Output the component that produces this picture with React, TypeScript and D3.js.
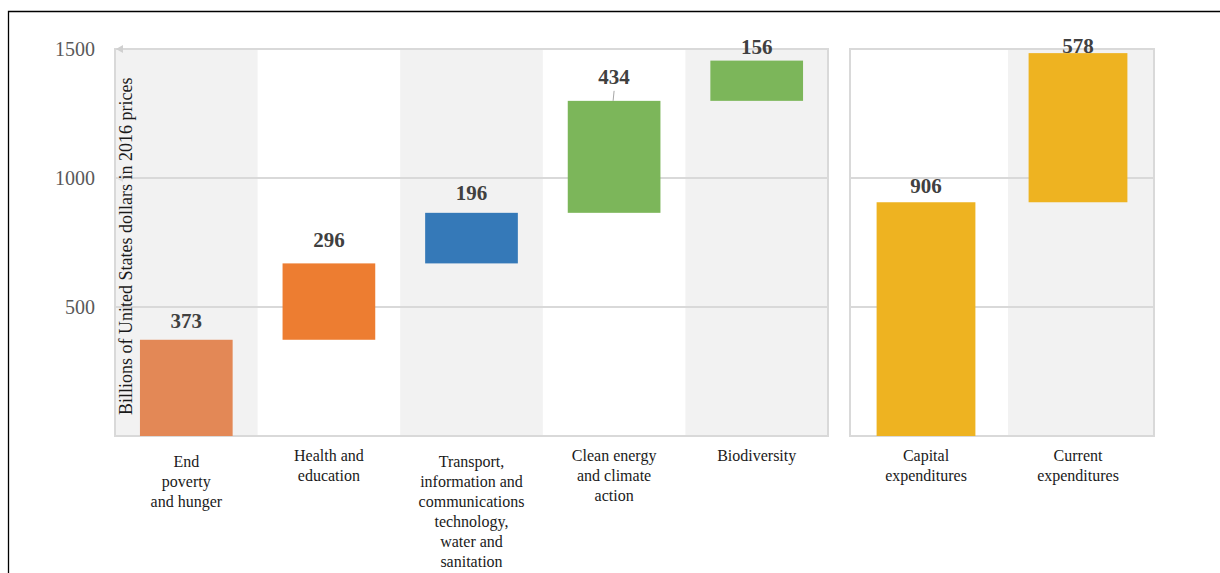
import React from "react";
import * as d3 from "d3";

// ---- Data ----
const leftCategories = [
  "End poverty and hunger",
  "Health and education",
  "Transport, information and communications technology, water and sanitation",
  "Clean energy and climate action",
  "Biodiversity",
];
const leftLabelLines = [
  ["End", "poverty", "and hunger"],
  ["Health and", "education"],
  ["Transport,", "information and", "communications", "technology,", "water and", "sanitation"],
  ["Clean energy", "and climate", "action"],
  ["Biodiversity"],
];
const leftValues = [373, 296, 196, 434, 156];
const leftColors = ["#E38856", "#ED7D31", "#3579B8", "#7CB65A", "#7CB65A"];

const rightCategories = ["Capital expenditures", "Current expenditures"];
const rightLabelLines = [
  ["Capital", "expenditures"],
  ["Current", "expenditures"],
];
const rightValues = [906, 578];
const rightColors = ["#EEB321", "#EEB321"];

const yTicks = [500, 1000, 1500];
const yTitle = "Billions of United States dollars in 2016 prices";

// ---- Layout constants ----
const W = 1220;
const H = 573;
const leftRange: [number, number] = [115, 828];
const rightRange: [number, number] = [850, 1154];
const leftLift = [12, 16, 13, 17, 7];
const rightLift = [9, 0];
const leftLabelShift = [6, 0, 6, 0, 0];
const rightLabelShift = [0, 0];
const BAR_RATIO = 0.65;
const serif = "'Liberation Serif', 'Times New Roman', serif";

type Bar = {
  cat: string;
  lines: string[];
  value: number;
  base: number;
  top: number;
  color: string;
  lift: number;
  shift: number;
};

function waterfall(
  cats: string[],
  lines: string[][],
  vals: number[],
  colors: string[],
  lifts: number[],
  shifts: number[]
): Bar[] {
  let acc = 0;
  return cats.map((c, i) => {
    const base = acc;
    acc += vals[i];
    return { cat: c, lines: lines[i], value: vals[i], base, top: acc, color: colors[i], lift: lifts[i], shift: shifts[i] };
  });
}

export default function App() {
  const y = d3.scaleLinear().domain([0, 1500]).range([436, 49]);
  const leftBars = waterfall(leftCategories, leftLabelLines, leftValues, leftColors, leftLift, leftLabelShift);
  const rightBars = waterfall(rightCategories, rightLabelLines, rightValues, rightColors, rightLift, rightLabelShift);
  const xl = d3.scaleBand<string>().domain(leftCategories).range(leftRange).padding(0);
  const xr = d3.scaleBand<string>().domain(rightCategories).range(rightRange).padding(0);

  const panels = [
    { bars: leftBars, x: xl, range: leftRange, grayIdx: (i: number) => i % 2 === 0, grayInset: 0 },
    { bars: rightBars, x: xr, range: rightRange, grayIdx: (i: number) => i % 2 === 1, grayInset: 6 },
  ];

  const y0 = y(0);
  const yTop = y(1500);

  return (
    <div style={{ position: "absolute", left: 0, top: 0 }}>
      <svg width={W} height={H} style={{ display: "block", background: "#fff" }}>
        <rect x={0} y={0} width={W} height={H} fill="#fff" />
        {/* outer frame */}
        <path d={`M8.5,${H} V11.5 H${W}`} fill="none" stroke="#000" strokeWidth={1.3} />

        {panels.map((p, pi) => {
          const bw = p.x.bandwidth();
          return (
            <g key={pi}>
              {/* alternating bands */}
              {p.bars.map((b, i) =>
                p.grayIdx(i) ? (
                  <rect key={i} x={p.x(b.cat)! + p.grayInset} y={yTop} width={bw - p.grayInset} height={y0 - yTop} fill="#F2F2F2" />
                ) : null
              )}
              {/* gridlines */}
              {yTicks.map((t) => (
                <line key={t} x1={p.range[0]} x2={p.range[1]} y1={y(t)} y2={y(t)} stroke="#D9D9D9" strokeWidth={2} />
              ))}
              {/* panel border */}
              <rect x={p.range[0]} y={yTop} width={p.range[1] - p.range[0]} height={y0 - yTop} fill="none" stroke="#D9D9D9" strokeWidth={2} />
              {/* bars */}
              {p.bars.map((b, i) => {
                const cx = p.x(b.cat)! + bw / 2;
                const w = bw * BAR_RATIO;
                return (
                  <rect key={"b" + i} x={cx - w / 2} y={y(b.top)} width={w} height={y(b.base) - y(b.top)} fill={b.color} />
                );
              })}
              {/* value labels */}
              {p.bars.map((b, i) => {
                const cx = p.x(b.cat)! + bw / 2;
                const by = y(b.top) - b.lift;
                return (
                  <g key={"l" + i}>
                    {pi === 0 && i === 3 ? (
                      <line x1={cx} x2={cx - 1} y1={by + 7} y2={y(b.top)} stroke="#A6A6A6" strokeWidth={1} />
                    ) : null}
                    <text x={cx} y={by} textAnchor="middle" fontFamily={serif} fontWeight="bold" fontSize={21} fill="#404040">
                      {b.value}
                    </text>
                  </g>
                );
              })}
              {/* category labels */}
              {p.bars.map((b, i) => {
                const cx = p.x(b.cat)! + bw / 2;
                return (
                  <text key={"c" + i} textAnchor="middle" fontFamily={serif} fontSize={16} fill="#1a1a1a">
                    {b.lines.map((ln, k) => (
                      <tspan key={k} x={cx} y={461 + b.shift + k * 20}>
                        {ln}
                      </tspan>
                    ))}
                  </text>
                );
              })}
            </g>
          );
        })}

        {/* arrowheads at left ends of top gridlines */}
        {[1500, 1000].map((t) => (
          <path
            key={"a" + t}
            d={`M${leftRange[0] + 1},${y(t)} l7,-4 v8 z`}
            fill={t === 1500 ? "#D0D0D0" : "#DDDDDD"}
          />
        ))}

        {/* y tick labels */}
        {yTicks.map((t) => (
          <text key={"t" + t} x={95} y={y(t) + 7} textAnchor="end" fontFamily={serif} fontSize={20} fill="#595959">
            {t}
          </text>
        ))}

        {/* y axis title */}
        <text transform={`translate(132,415) rotate(-90)`} fontFamily={serif} fontSize={18} fill="#1a1a1a">
          {yTitle}
        </text>
      </svg>
    </div>
  );
}
